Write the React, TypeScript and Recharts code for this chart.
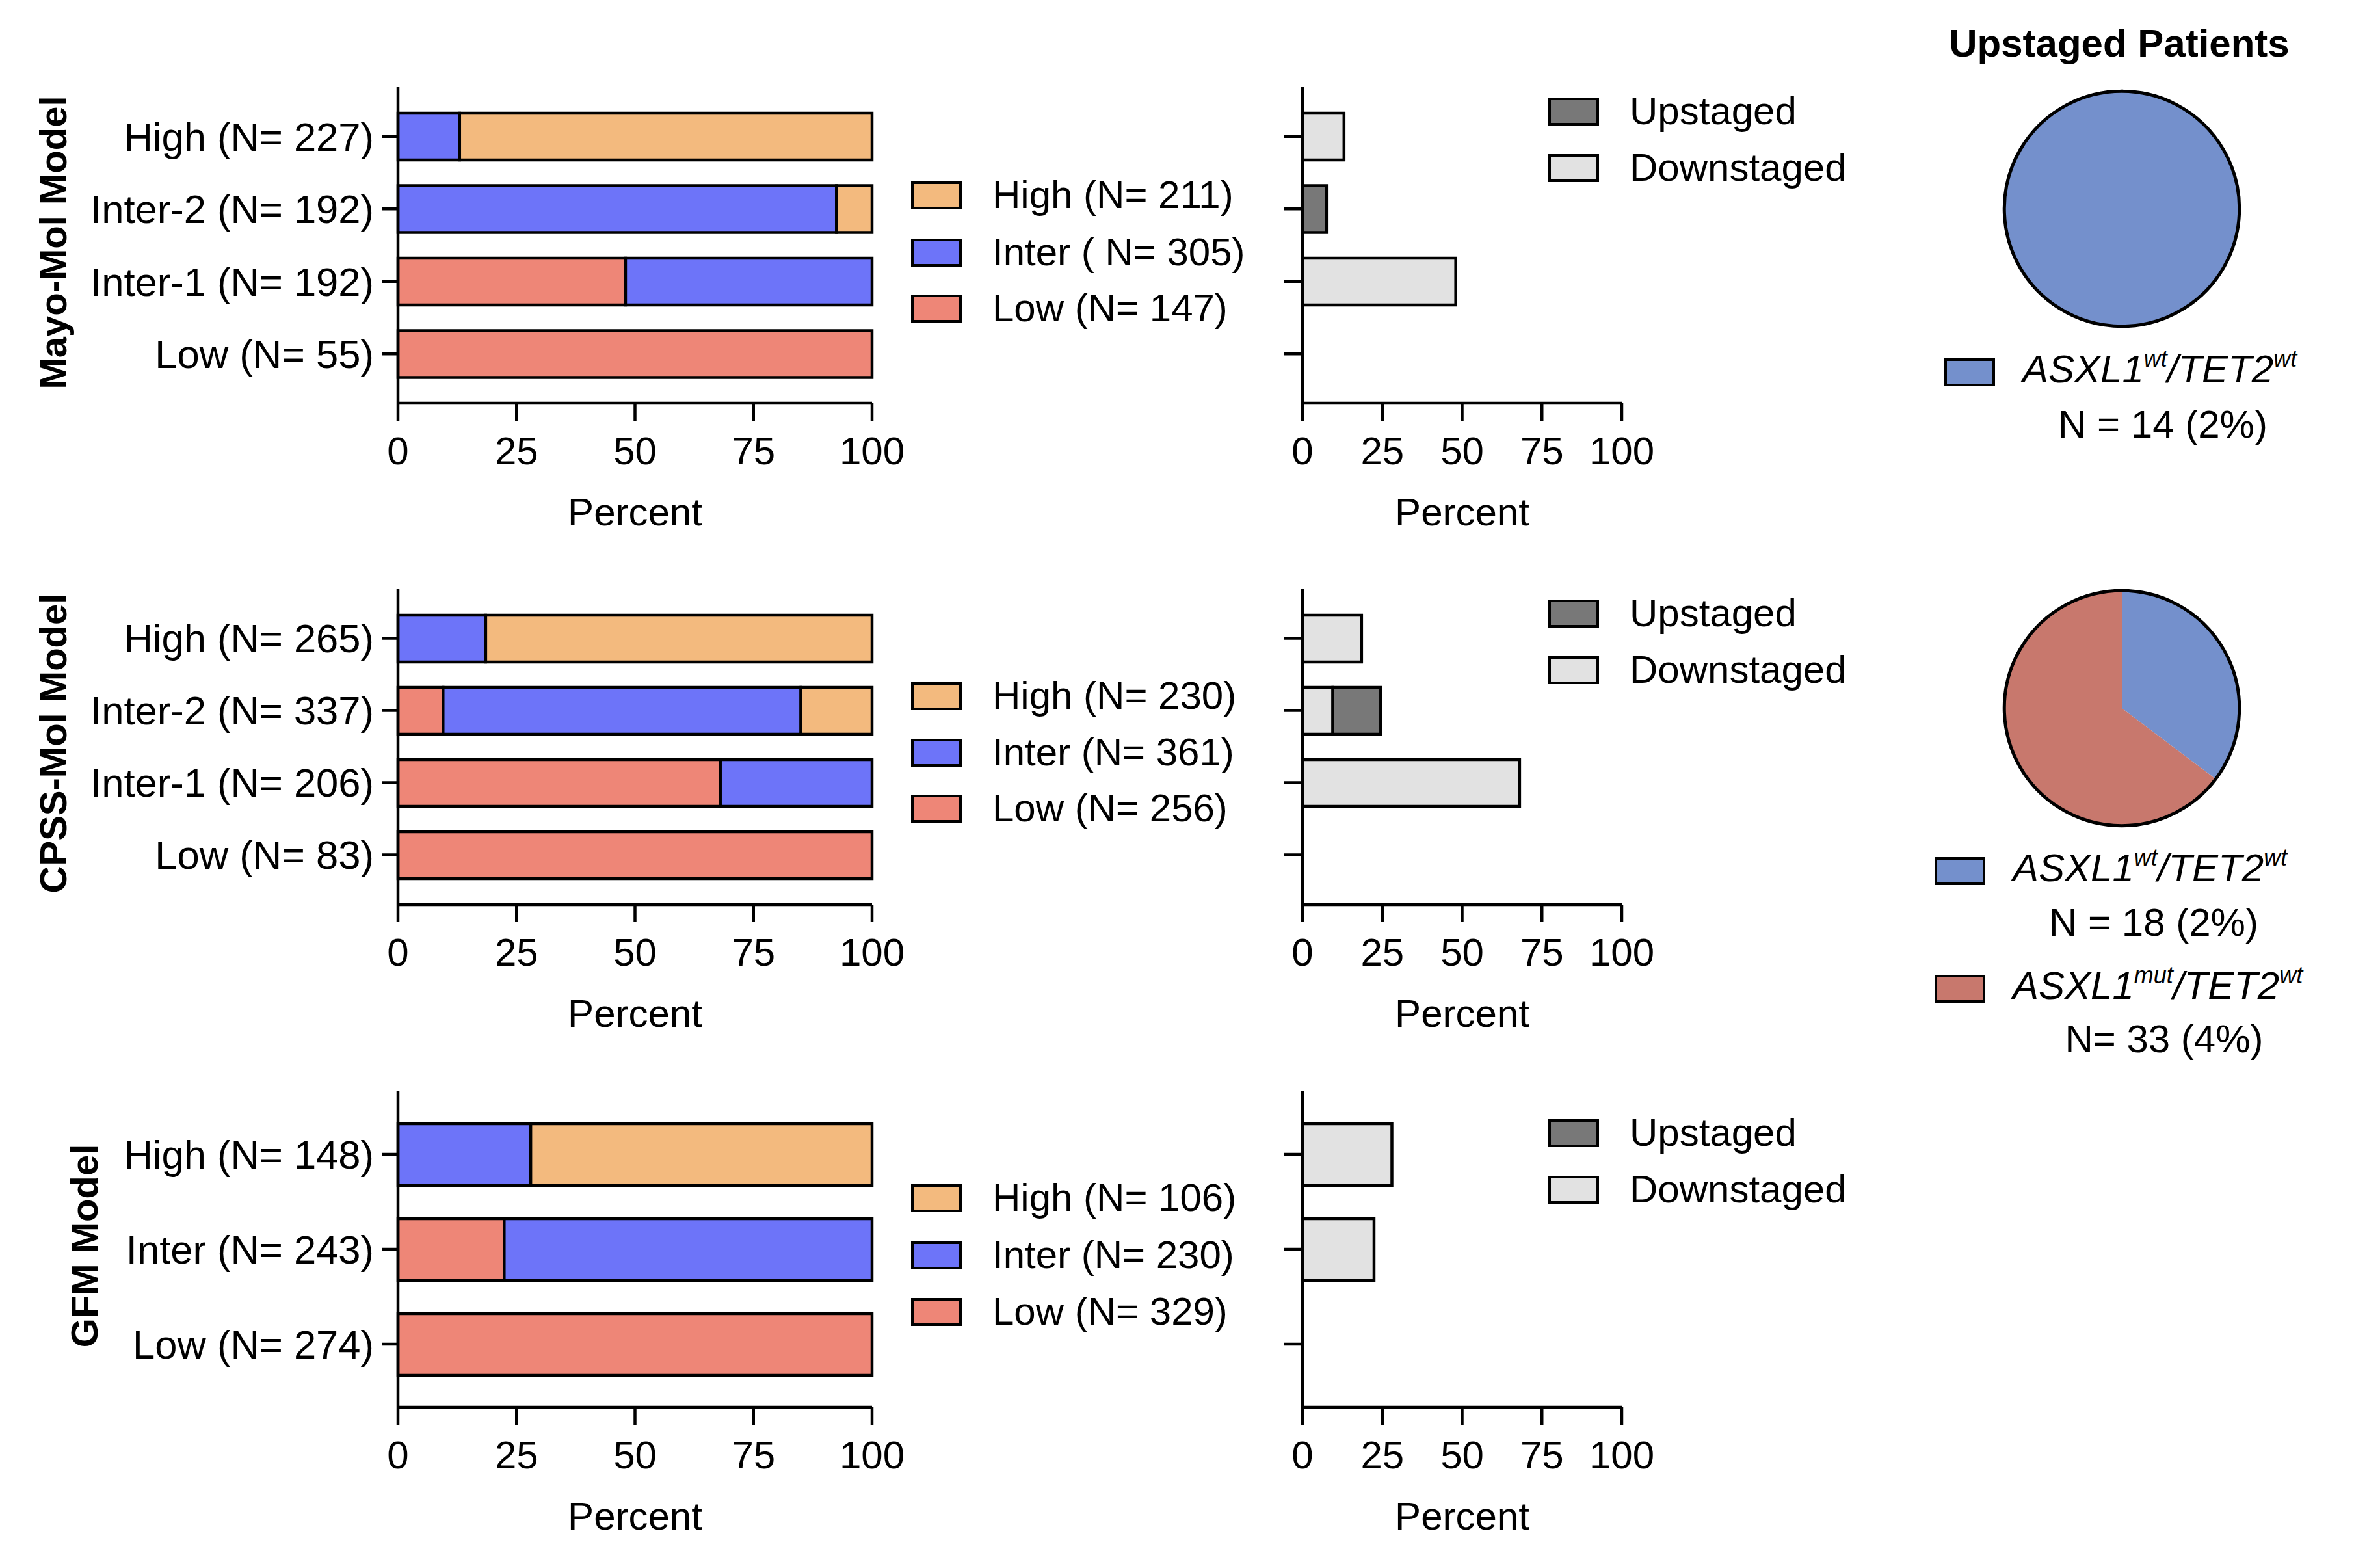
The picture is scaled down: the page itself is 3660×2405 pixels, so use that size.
import React from 'react';
import { BarChart, Bar, XAxis, YAxis, PieChart, Pie, Cell } from 'recharts';

const FONT = 'Arial, "Liberation Sans", Helvetica, sans-serif';

// colours
const C_HIGH = '#F3BA7E';
const C_INTER = '#6D74F9';
const C_LOW = '#EE8677';
const C_UP = '#787878';
const C_DOWN = '#E2E2E2';
const C_PIE_WT = '#7490CC';
const C_PIE_MUT = '#C8786D';

// Mayo-Mol model
const mayoCats = ['High (N= 227)', 'Inter-2 (N= 192)', 'Inter-1 (N= 192)', 'Low (N= 55)'];
const mayoLow = [0, 0, 48, 100];
const mayoInter = [13, 92.5, 52, 0];
const mayoHigh = [87, 7.5, 0, 0];
const mayoDown = [13, 0, 48, 0];
const mayoUp = [0, 7.5, 0, 0];
const mayoLegend = ['High (N= 211)', 'Inter ( N= 305)', 'Low (N= 147)'];

// CPSS-Mol model
const cpssCats = ['High (N= 265)', 'Inter-2 (N= 337)', 'Inter-1 (N= 206)', 'Low (N= 83)'];
const cpssLow = [0, 9.5, 68, 100];
const cpssInter = [18.5, 75.5, 32, 0];
const cpssHigh = [81.5, 15, 0, 0];
const cpssDown = [18.5, 9.5, 68, 0];
const cpssUp = [0, 15, 0, 0];
const cpssLegend = ['High (N= 230)', 'Inter (N= 361)', 'Low (N= 256)'];

// GFM model
const gfmCats = ['High (N= 148)', 'Inter (N= 243)', 'Low (N= 274)'];
const gfmLow = [0, 22.4, 100];
const gfmInter = [28, 77.6, 0];
const gfmHigh = [72, 0, 0];
const gfmDown = [28, 22.4, 0];
const gfmUp = [0, 0, 0];
const gfmLegend = ['High (N= 106)', 'Inter (N= 230)', 'Low (N= 329)'];

const xTicks = [0, 25, 50, 75, 100];

// upstaged patients pies
const pie1Values = [14];
const pie2Values = [18, 33];

const PLOT_H = 486;
const LINE_W = 4.5;

const tickStyle = { fill: '#000', fontSize: 60, fontFamily: FONT };
const catTickStyle = { fill: '#000', fontSize: 61.5, fontFamily: FONT };

const noLabel = () => <g />;

function xAxisEl() {
  return (
    <XAxis
      type="number"
      domain={[0, 100]}
      ticks={xTicks}
      tickSize={27}
      tickMargin={24}
      height={200}
      tick={tickStyle}
      axisLine={{ stroke: '#000', strokeWidth: LINE_W }}
      tickLine={{ stroke: '#000', strokeWidth: LINE_W }}
      label={{ value: 'Percent', position: 'insideBottom', offset: 12, fill: '#000', fontSize: 60, fontFamily: FONT }}
    />
  );
}

function StackRow({ top, cats, low, inter, high, pad, barSize }) {
  const data = cats.map((name, i) => ({ name, low: low[i], inter: inter[i], high: high[i] }));
  return (
    <div style={{ position: 'absolute', left: 0, top: top - 10 }}>
      <BarChart
        width={1401}
        height={10 + PLOT_H + 200}
        data={data}
        layout="vertical"
        margin={{ top: 10, right: 60, bottom: 0, left: 0 }}
      >
        {xAxisEl()}
        <YAxis
          type="category"
          dataKey="name"
          width={612}
          tickSize={25}
          tickMargin={12}
          padding={{ top: pad, bottom: pad }}
          tick={catTickStyle}
          axisLine={{ stroke: '#000', strokeWidth: LINE_W }}
          tickLine={{ stroke: '#000', strokeWidth: LINE_W }}
        />
        <Bar dataKey="low" stackId="s" fill={C_LOW} stroke="#000" strokeWidth={LINE_W} barSize={barSize} isAnimationActive={false} />
        <Bar dataKey="inter" stackId="s" fill={C_INTER} stroke="#000" strokeWidth={LINE_W} barSize={barSize} isAnimationActive={false} />
        <Bar dataKey="high" stackId="s" fill={C_HIGH} stroke="#000" strokeWidth={LINE_W} barSize={barSize} isAnimationActive={false} />
      </BarChart>
    </div>
  );
}

function ShiftRow({ top, cats, down, up, pad, barSize }) {
  const data = cats.map((name, i) => ({ name, down: down[i], up: up[i] }));
  return (
    <div style={{ position: 'absolute', left: 1943, top: top - 10 }}>
      <BarChart
        width={611}
        height={10 + PLOT_H + 200}
        data={data}
        layout="vertical"
        margin={{ top: 10, right: 60, bottom: 0, left: 0 }}
      >
        {xAxisEl()}
        <YAxis
          type="category"
          dataKey="name"
          width={60}
          tickSize={29}
          tick={noLabel}
          padding={{ top: pad, bottom: pad }}
          axisLine={{ stroke: '#000', strokeWidth: LINE_W }}
          tickLine={{ stroke: '#000', strokeWidth: LINE_W }}
        />
        <Bar dataKey="down" stackId="s" fill={C_DOWN} stroke="#000" strokeWidth={LINE_W} barSize={barSize} isAnimationActive={false} />
        <Bar dataKey="up" stackId="s" fill={C_UP} stroke="#000" strokeWidth={LINE_W} barSize={barSize} isAnimationActive={false} />
      </BarChart>
    </div>
  );
}

function Swatch({ color, w = 78, h = 43 }) {
  return (
    <div style={{ width: w, height: h, background: color, border: '4.5px solid #000', boxSizing: 'border-box', flex: 'none' }} />
  );
}

function LegendRow({ left, cy, color, children, gap = 47 }) {
  return (
    <div style={{ position: 'absolute', left, top: cy - 40, height: 80, display: 'flex', alignItems: 'center', whiteSpace: 'nowrap' }}>
      <Swatch color={color} />
      <div style={{ marginLeft: gap, fontSize: 60, lineHeight: '80px' }}>{children}</div>
    </div>
  );
}

function StackLegend({ centers, labels }) {
  const colors = [C_HIGH, C_INTER, C_LOW];
  return (
    <>
      {labels.map((l, i) => (
        <LegendRow key={l} left={1401} cy={centers[i]} color={colors[i]}>{l}</LegendRow>
      ))}
    </>
  );
}

function ShiftLegend({ centers }) {
  return (
    <>
      <LegendRow left={2381} cy={centers[0]} color={C_UP}>Upstaged</LegendRow>
      <LegendRow left={2381} cy={centers[1]} color={C_DOWN}>Downstaged</LegendRow>
    </>
  );
}

function ModelLabel({ x, y, text }) {
  return (
    <div
      style={{
        position: 'absolute', left: x, top: y, transform: 'translate(-50%, -50%) rotate(-90deg)',
        fontWeight: 'bold', fontSize: 58, whiteSpace: 'nowrap',
      }}
    >
      {text}
    </div>
  );
}

const supStyle = { fontSize: 36, position: 'relative', top: -24, verticalAlign: 'baseline' };

function Genotype({ mut }) {
  return (
    <span style={{ fontStyle: 'italic' }}>
      ASXL1<span style={supStyle}>{mut ? 'mut' : 'wt'}</span>/TET2<span style={supStyle}>wt</span>
    </span>
  );
}

function CenterText({ cx, cy, children, bold = false }) {
  return (
    <div style={{ position: 'absolute', left: cx - 400, width: 800, top: cy - 40, height: 80, lineHeight: '80px', textAlign: 'center', fontSize: 60, fontWeight: bold ? 'bold' : 'normal' }}>
      {children}
    </div>
  );
}

function UpPie({ cx, cy, values, colors }) {
  const data = values.map((v, i) => ({ name: 'g' + i, value: v }));
  return (
    <div style={{ position: 'absolute', left: cx - 250, top: cy - 250 }}>
      <PieChart width={500} height={500}>
        <Pie data={data} dataKey="value" cx={250} cy={250} outerRadius={181} startAngle={90} endAngle={-270} stroke="none" isAnimationActive={false}>
          {data.map((d, i) => (
            <Cell key={d.name} fill={colors[i]} />
          ))}
        </Pie>
        <Pie data={[{ value: 1 }]} dataKey="value" cx={250} cy={250} innerRadius={180.5} outerRadius={181} startAngle={90} endAngle={-270} fill="none" stroke="#000" strokeWidth={4.5} isAnimationActive={false} />
      </PieChart>
    </div>
  );
}

export default function App() {
  return (
    <div style={{ position: 'absolute', left: 0, top: 0, width: 3660, height: 2405, background: '#fff', fontFamily: FONT, color: '#000', overflow: 'hidden' }}>
      <ModelLabel x={81} y={373} text="Mayo-Mol Model" />
      <ModelLabel x={81} y={1143} text="CPSS-Mol Model" />
      <ModelLabel x={129} y={1916} text="GFM Model" />

      <StackRow top={134} cats={mayoCats} low={mayoLow} inter={mayoInter} high={mayoHigh} pad={20} barSize={72} />
      <StackRow top={905} cats={cpssCats} low={cpssLow} inter={cpssInter} high={cpssHigh} pad={21} barSize={72} />
      <StackRow top={1678} cats={gfmCats} low={gfmLow} inter={gfmInter} high={gfmHigh} pad={24} barSize={95} />

      <StackLegend centers={[300, 388, 474]} labels={mayoLegend} />
      <StackLegend centers={[1070, 1157, 1243]} labels={cpssLegend} />
      <StackLegend centers={[1842, 1930, 2017]} labels={gfmLegend} />

      <ShiftRow top={134} cats={mayoCats} down={mayoDown} up={mayoUp} pad={20} barSize={72} />
      <ShiftRow top={905} cats={cpssCats} down={cpssDown} up={cpssUp} pad={21} barSize={72} />
      <ShiftRow top={1678} cats={gfmCats} down={gfmDown} up={gfmUp} pad={24} barSize={95} />

      <ShiftLegend centers={[171, 258]} />
      <ShiftLegend centers={[943, 1030]} />
      <ShiftLegend centers={[1742, 1829]} />

      <CenterText cx={3259} cy={67} bold>Upstaged Patients</CenterText>
      <UpPie cx={3258} cy={316} values={pie1Values} colors={[C_PIE_WT]} />
      <UpPie cx={3258} cy={1084} values={pie2Values} colors={[C_PIE_WT, C_PIE_MUT]} />

      <LegendRow left={2990} cy={572} color={C_PIE_WT} gap={42}><Genotype /></LegendRow>
      <CenterText cx={3326} cy={653}>N = 14 (2%)</CenterText>

      <LegendRow left={2975} cy={1339} color={C_PIE_WT} gap={42}><Genotype /></LegendRow>
      <CenterText cx={3312} cy={1419}>N = 18 (2%)</CenterText>
      <LegendRow left={2975} cy={1520} color={C_PIE_MUT} gap={42}><Genotype mut /></LegendRow>
      <CenterText cx={3328} cy={1598}>N= 33 (4%)</CenterText>
    </div>
  );
}
